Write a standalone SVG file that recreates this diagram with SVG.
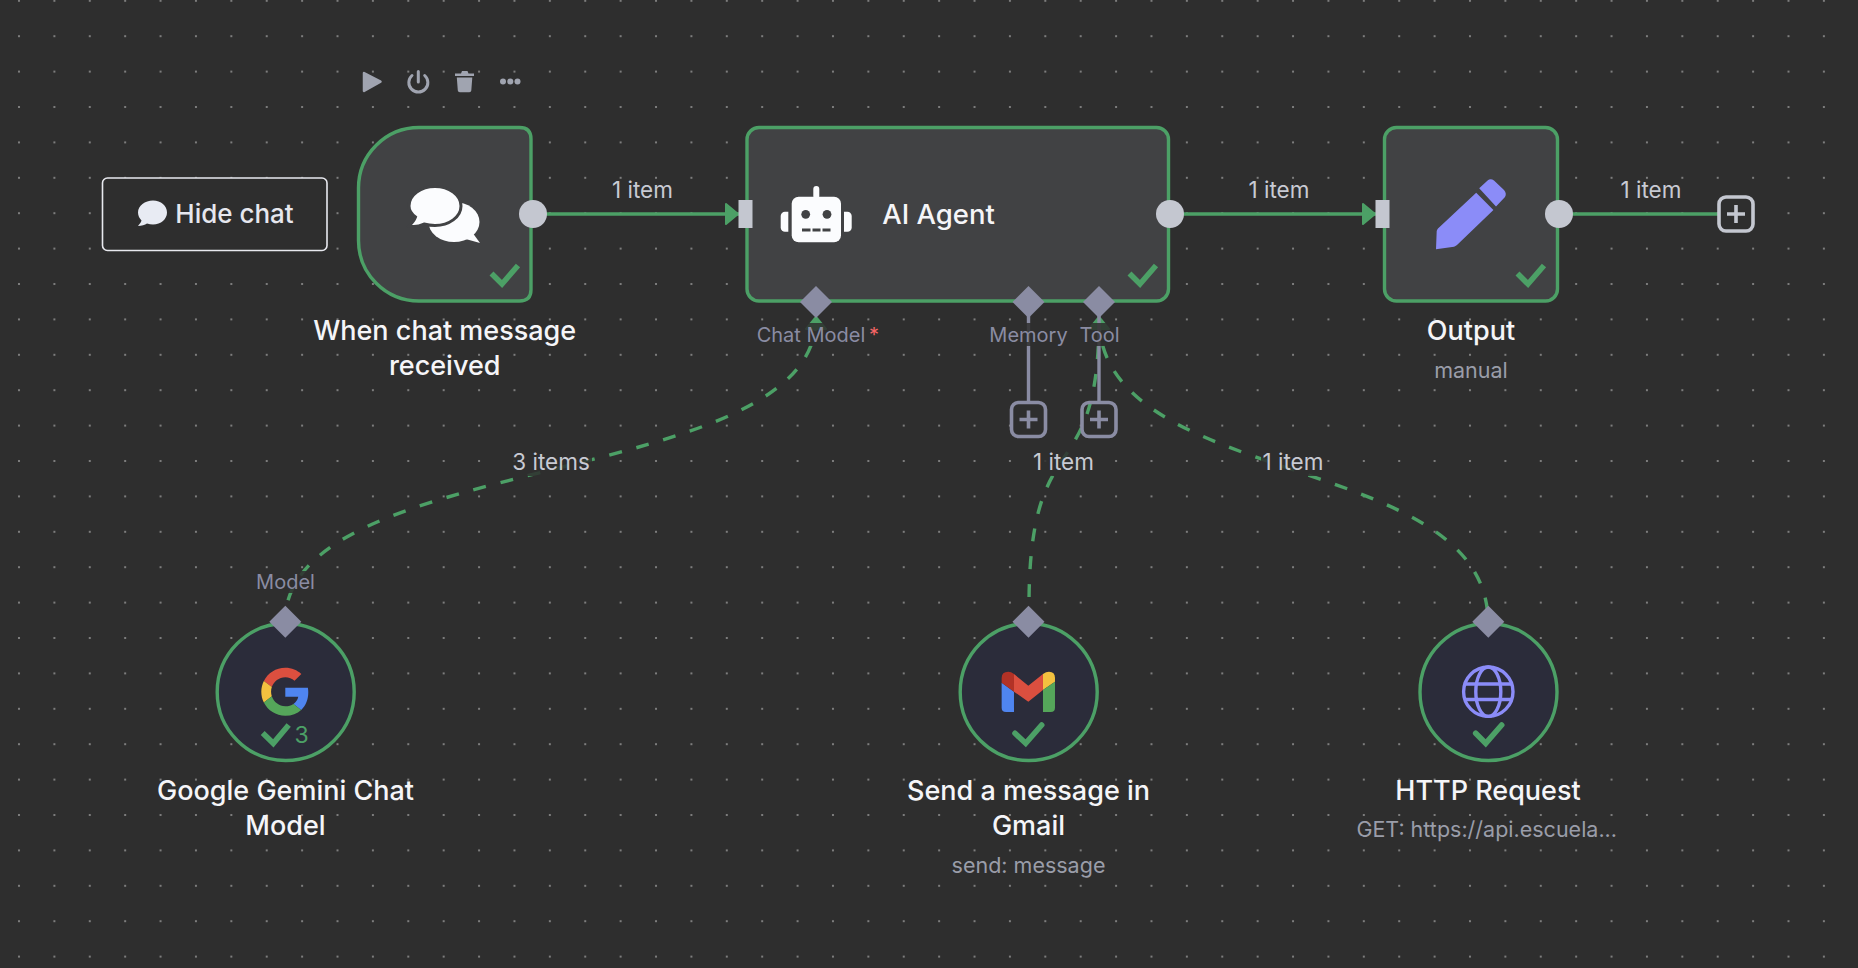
<svg xmlns="http://www.w3.org/2000/svg" width="1858" height="968" viewBox="0 0 1858 968">
<style>
text{font-family:Inter,"Liberation Sans",sans-serif;text-anchor:middle}
.name{font-size:27px;font-weight:500;fill:#f5f5f8}
.sub{font-size:21.5px;fill:#9a9da9}
.edge-label{font-size:22.5px;fill:#c8cad3}
.port-label{font-size:20px;fill:#8a8ca3}
.box{fill:#414244;stroke:#4ca066;stroke-width:3.4}
.circ{fill:#2b2c3a;stroke:#4ca066;stroke-width:3.4}
.check{fill:none;stroke:#4ca066;stroke-width:5.6;stroke-linejoin:miter}
.edge{fill:none;stroke:#4ca066;stroke-width:3.4}
.dash{stroke-dasharray:13 15}
.gray{fill:none;stroke:#8a8ca3;stroke-width:3.4}
.lbg{fill:#2e2e2e;fill-opacity:.85}
.port{fill:#c4c7d0}
.diam{fill:#8a8ca3}
.plusg{fill:none;stroke:#8a8ca3;stroke-width:3.6}
.plusl{fill:none;stroke:#c4c7d0;stroke-width:3.6}
.tool{fill:#a0a4b0}
</style>
<defs>
<pattern id="grid" x="19" y="0.8" width="35.39" height="35.4" patternUnits="userSpaceOnUse"><rect x="-1" y="-1" width="2" height="2" fill="#7d7d7d"/><rect x="34.39" y="-1" width="2" height="2" fill="#7d7d7d"/><rect x="-1" y="34.4" width="2" height="2" fill="#7d7d7d"/><rect x="34.39" y="34.4" width="2" height="2" fill="#7d7d7d"/></pattern>
<path id="arrowR" d="M0-10 L12 0 L0 10Z" fill="#4ca066" stroke="#4ca066" stroke-width="2" stroke-linejoin="round"/>
<path id="arrowU" d="M-10 13 L0 1 L10 13Z" fill="#4ca066" stroke="#4ca066" stroke-width="2" stroke-linejoin="round"/>
<path id="diamond" d="M0-16 L16 0 L0 16 L-16 0Z"/>
<path id="ck" d="M-13-1 L-2.5 9.5 L13.5-9"/>
<g id="plusbox"><rect x="-17" y="-17" width="34" height="34" rx="7"/><path d="M-9 0H9M0-9V9"/></g>
</defs>
<rect width="1858" height="968" fill="#2e2e2e"/>
<rect width="1858" height="968" fill="url(#grid)"/>

<g id="connectors">
<path class="edge" d="M533 214H740"/>
<use href="#arrowR" x="726" y="214"/>
<path class="edge" d="M1170 214H1378"/>
<use href="#arrowR" x="1363" y="214"/>
<path class="edge" d="M1559 214H1718"/>
<path class="edge dash" d="M816 318C816 490 285 450 285 622"/>
<path class="edge dash" d="M1099 318C1099 494 1029 418 1029 606"/>
<path class="edge dash" d="M1099 318C1099 490 1488 450 1488 622"/>
<use href="#arrowU" x="816" y="316"/>
<use href="#arrowU" x="1099" y="316"/>
<path class="gray" d="M1028.5 302V402M1099 302V402"/>
<use href="#plusbox" class="plusg" x="1028.5" y="419.5"/>
<use href="#plusbox" class="plusg" x="1099" y="419.5"/>
<use href="#plusbox" class="plusl" x="1736" y="214"/>
<rect class="lbg" x="752" y="323" width="130" height="23"/>
<rect class="lbg" x="986" y="323" width="85" height="23"/>
<rect class="lbg" x="1077" y="323" width="45" height="23"/>
<rect class="lbg" x="253" y="571" width="65" height="22"/>
<rect class="lbg" x="510" y="450" width="82" height="26"/>
<rect class="lbg" x="1031" y="450" width="65" height="26"/>
<rect class="lbg" x="1261" y="450" width="65" height="26"/>
<text class="edge-label" x="642.5" y="198">1 item</text>
<text class="edge-label" x="1279" y="198">1 item</text>
<text class="edge-label" x="1651" y="198">1 item</text>
<text class="edge-label" x="551" y="470">3 items</text>
<text class="edge-label" x="1063.5" y="470">1 item</text>
<text class="edge-label" x="1293" y="470">1 item</text>
<text class="port-label" x="811" y="342">Chat Model</text>
<text x="874" y="342" style="font-size:20px;fill:#f56565">*</text>
<text class="port-label" x="1028.5" y="342">Memory</text>
<text class="port-label" x="1099.5" y="342">Tool</text>
<text class="port-label" x="285.5" y="588.5">Model</text>
</g>

<g id="hide-chat">
<rect x="102.5" y="178" width="224.5" height="72.5" rx="5" fill="#2e2e2e" stroke="#e8e9ef" stroke-width="1.6"/>
<path d="M153 200.5C145 200.5 138 205.5 138 212.5C138 215.5 139.5 218.5 141.5 220.500C141 222.500 139.500 224 138 226C141.500 226 145 224.800 147 223.500C149 224.200 151 224.500 153 224.500C161 224.500 167 219 167 212.500C167 205.500 161 200.500 153 200.500Z" fill="#e8ebf3"/>
<text x="234.500" y="222.500" style="font-size:26px;font-weight:500;fill:#e6e7ee">Hide chat</text>
</g>

<g id="toolbar">
<path class="tool" d="M364 73L380.500 81.700L364 91Z" stroke="#a0a4b0" stroke-width="2.500" stroke-linejoin="round"/>
<path d="M412 75.500A9.500 9.500 0 1 0 424.700 75.500M418.300 71.500V82" fill="none" stroke="#a0a4b0" stroke-width="3" stroke-linecap="round"/>
<path class="tool" d="M455 73.500H461L462 71H467.500L468.500 73.500H474V76H455ZM456.800 77.500H472.300L471.300 90.500Q471.200 92.300 469.300 92.300H459.800Q458 92.300 457.800 90.500Z"/>
<circle class="tool" cx="503" cy="81.500" r="3"/><circle class="tool" cx="510.300" cy="81.500" r="3"/><circle class="tool" cx="517.500" cy="81.500" r="3"/>
</g>

<g id="node-chat-trigger">
<path class="box" d="M419 127.500H519.500Q531 127.500 531 139V289.500Q531 301 519.500 301H419A60.500 60.500 0 0 1 358.500 240.500V188A60.500 60.500 0 0 1 419 127.500Z"/>
<ellipse cx="454" cy="222" rx="25.500" ry="20" fill="#fbfcfe"/>
<path d="M472 232L480 243L462 238Z" fill="#fbfcfe"/>
<path d="M435 186.500C449 186.500 461 195 461 206C461 217 449 225.500 435 225.500C431 225.500 427.500 225 424 224C420 226 415 227.500 409 226C412 223 414.500 220 415.500 217C411.500 214 409 210.500 409 206C409 195 421 186.500 435 186.500Z" fill="#fbfcfe" stroke="#414244" stroke-width="3"/>
<circle class="port" cx="533" cy="214" r="14"/>
<use href="#ck" class="check" x="504.500" y="274.500"/>
<text class="name" x="444.700" y="340">When chat message</text>
<text class="name" x="444.700" y="375">received</text>
</g>

<g id="node-ai-agent">
<rect class="box" x="747" y="127.500" width="421.500" height="173.500" rx="12"/>
<rect class="port" x="738.500" y="200" width="14" height="28"/>
<circle class="port" cx="1170" cy="214" r="14"/>
<use href="#diamond" class="diam" x="816" y="302"/>
<use href="#diamond" class="diam" x="1028.500" y="302"/>
<use href="#diamond" class="diam" x="1099" y="302"/>
<g fill="#fbfcfe">
<rect x="791.700" y="196.700" width="49.300" height="45.600" rx="7"/>
<rect x="813.300" y="186" width="6" height="13" rx="3"/>
<path d="M788.300 211.700V231.700H785A4.300 4.300 0 0 1 780.700 227.400V216A4.300 4.300 0 0 1 785 211.700Z"/>
<path d="M844 211.700V231.700H847.400A4.300 4.300 0 0 0 851.700 227.400V216A4.300 4.300 0 0 0 847.400 211.700Z"/>
</g>
<g fill="#414244">
<circle cx="805.700" cy="214.300" r="4.400"/><circle cx="827" cy="214.300" r="4.400"/>
<rect x="802" y="228.500" width="8.500" height="3"/><rect x="812.500" y="228.500" width="8" height="3"/><rect x="822.500" y="228.500" width="8" height="3"/>
</g>
<use href="#ck" class="check" x="1142.500" y="274.500"/>
<text class="name" x="938.500" y="224" style="font-size:27.500px">AI Agent</text>
</g>

<g id="node-output">
<rect class="box" x="1384.500" y="127.500" width="173" height="173.500" rx="12"/>
<rect class="port" x="1375.500" y="200" width="14" height="28"/>
<circle class="port" cx="1559" cy="214" r="14"/>
<path d="M1436 249.300L1436.700 231Q1437 229.500 1438 228.500L1476.200 192.700L1493.400 210L1457 245Q1455.500 246.300 1454 246.700ZM1479.200 188.300L1487.600 180.500Q1490.500 178 1494 180.500L1504 190Q1507 193.500 1505 197L1496 206.500Z" fill="#8b8cf8"/>
<use href="#ck" class="check" x="1530.500" y="274.500"/>
<text class="name" x="1471" y="340">Output</text>
<text class="sub" x="1471" y="377.700">manual</text>
</g>

<g id="node-gemini">
<circle class="circ" cx="285.700" cy="692" r="68.500"/>
<use href="#diamond" class="diam" x="285.300" y="621.700"/>
<g transform="translate(261.300 667.700)">
<path fill="#db4f3f" d="M24 9.500c3.540 0 6.710 1.220 9.210 3.600l6.850-6.850C35.900 2.380 30.470 0 24 0 14.620 0 6.510 5.380 2.560 13.220l7.980 6.190C12.430 13.720 17.740 9.500 24 9.500z"/>
<path fill="#4f85f0" d="M46.980 24.550c0-1.570-.15-3.090-.38-4.550H24v9.020h12.940c-.58 2.960-2.260 5.480-4.780 7.180l7.730 6c4.510-4.180 7.090-10.360 7.090-17.650z"/>
<path fill="#f3c13f" d="M10.530 28.590c-.48-1.450-.76-2.990-.76-4.590s.27-3.140.76-4.590l-7.980-6.190C.92 16.460 0 20.120 0 24c0 3.880.92 7.540 2.560 10.780l7.970-6.190z"/>
<path fill="#55a65a" d="M24 48c6.480 0 11.930-2.130 15.890-5.810l-7.730-6c-2.150 1.450-4.920 2.300-8.160 2.300-6.260 0-11.570-4.220-13.470-9.910l-7.980 6.190C6.510 42.620 14.620 48 24 48z"/>
</g>
<path class="check" d="M262.700 733L273.300 743.300L288.700 725"/>
<text x="301.700" y="742.700" style="font-size:23px;fill:#4ca066">3</text>
<text class="name" x="285.500" y="800">Google Gemini Chat</text>
<text class="name" x="285.500" y="835">Model</text>
</g>

<g id="node-gmail">
<circle class="circ" cx="1028.700" cy="692" r="68.500"/>
<use href="#diamond" class="diam" x="1028.500" y="621.700"/>
<g transform="translate(880 590) scale(.3333)">
<path fill="#4f85f0" d="M365 278L402 305V366H378Q365 366 365 353Z"/>
<path fill="#b23226" d="M365 278V264Q365 245 385 245Q393 245 402 252V305Z"/>
<path fill="#db4f3f" d="M402 252L445 287L489 252V300L445 335L402 305Z"/>
<path fill="#f3c13f" d="M489 252Q498 245 507 245Q525 245 525 264V275L489 300Z"/>
<path fill="#55a65a" d="M489 300L525 275V353Q525 366 512 366H489Z"/>
</g>
<path class="check" d="M1015 733.300L1025.700 743.300L1041.700 725" stroke-linecap="round"/>
<text class="name" x="1028.500" y="800">Send a message in</text>
<text class="name" x="1028.500" y="835">Gmail</text>
<text class="sub" x="1028.500" y="873.300">send: message</text>
</g>

<g id="node-http">
<circle class="circ" cx="1488.500" cy="692" r="68.500"/>
<use href="#diamond" class="diam" x="1488.300" y="621.700"/>
<g fill="none" stroke="#8b8cf8" stroke-width="3.400">
<circle cx="1488.300" cy="691.700" r="24.700"/>
<ellipse cx="1488.300" cy="691.700" rx="12.500" ry="24.700"/>
<path d="M1465.500 684H1511M1465.500 699.500H1511"/>
</g>
<path class="check" d="M1475.700 733.300L1485.700 743.300L1501.700 725" stroke-linecap="round"/>
<text class="name" x="1488" y="800">HTTP Request</text>
<text class="sub" x="1486.700" y="837.300">GET: https://api.escuela...</text>
</g>
</svg>
